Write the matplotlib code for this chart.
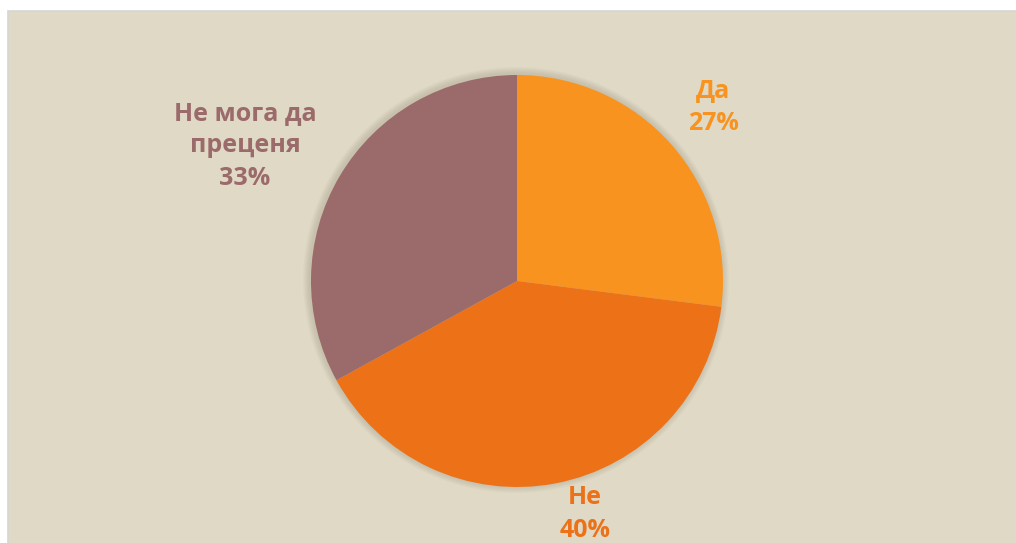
import matplotlib.pyplot as plt
from matplotlib.patches import Rectangle, Circle

# survey answers
labels = ['Да', 'Не', 'Не мога да\nпреценя']
shares = [27, 40, 33]
colors = ['#F7931E', '#EC7117', '#9B6A6A']

# label anchors in pixels (x, y from bottom)
label_pos = [(713, 436), (585, 29), (245, 397)]

W, H = 1016, 543
fig = plt.figure(figsize=(W / 100, H / 100), dpi=100)
fig.patch.set_facecolor('white')
ax = fig.add_axes([0, 0, 1, 1])

# beige chart area with thin grey frame
ax.add_patch(Rectangle((8, -2), W, H - 11 + 2, facecolor='#DFD9C6',
                       edgecolor='#D6D6D6', linewidth=1.2, zorder=0))

cx, cy, r = 517, 262, 206

# soft shadow round the pie
for i in range(7):
    ax.add_patch(Circle((cx - 1, cy + 1), r + 7 - i, facecolor='#8A8470',
                        edgecolor='none', alpha=0.045, zorder=1))

ax.pie(shares, colors=colors, startangle=90, counterclock=False,
       center=(cx, cy), radius=r, frame=True,
       wedgeprops=dict(linewidth=0, zorder=2))
ax.set_xlim(0, W)
ax.set_ylim(0, H)
ax.set_aspect('auto')
ax.axis('off')

for lab, val, col, (x, y) in zip(labels, shares, colors, label_pos):
    ax.text(x, y, f'{lab}\n{val}%', ha='center', va='center', color=col,
            fontsize=18, fontweight='bold', linespacing=1.4,
            family=['Open Sans', 'DejaVu Sans'], zorder=3)

fig.savefig('out.png', dpi=100)
